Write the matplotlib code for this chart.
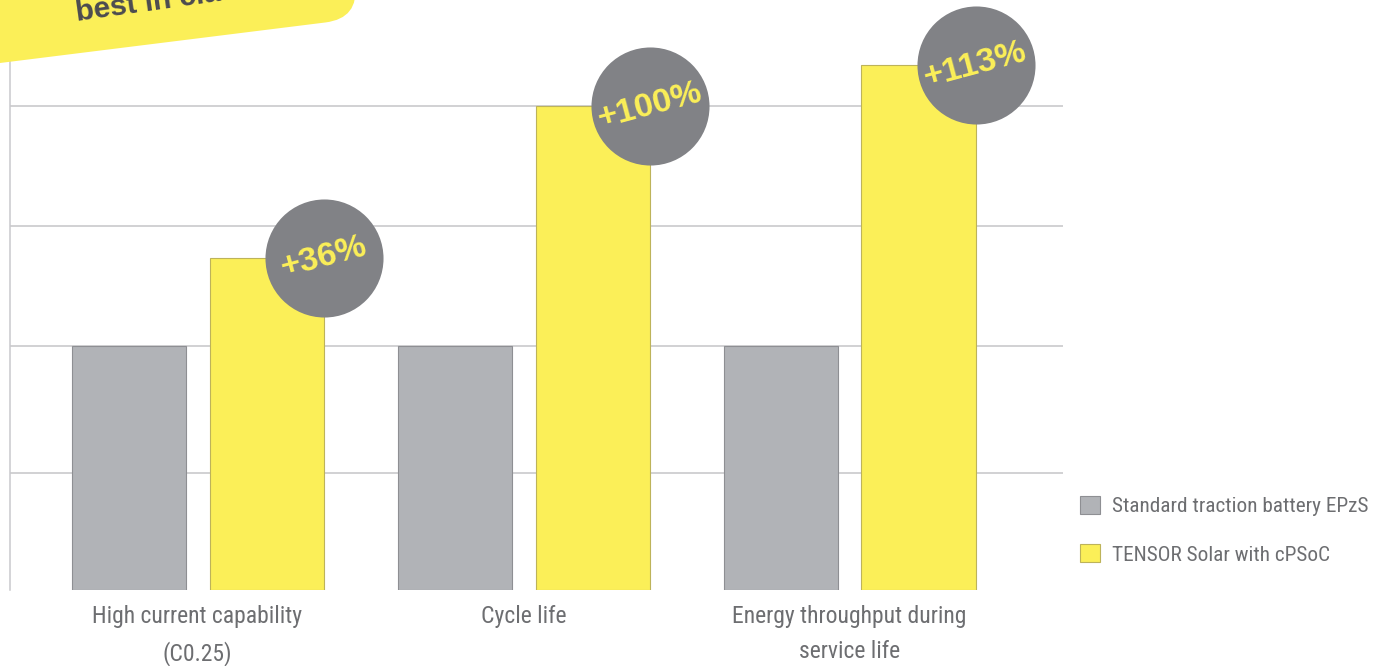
import matplotlib
matplotlib.use("Agg")
import matplotlib.pyplot as plt
from matplotlib.patches import FancyBboxPatch, Patch
from matplotlib.transforms import Affine2D
import numpy as np
import logging
logging.getLogger("matplotlib.font_manager").setLevel(logging.ERROR)

# ---- data ----
categories = ["High current capability\n(C0.25)", "Cycle life", "Energy throughput during\nservice life"]
series_names = ["Standard traction battery EPzS", "TENSOR Solar with cPSoC"]
standard_vals = [100, 100, 100]
tensor_vals = [136, 198, 215]
gain_labels = ["+36%", "+100%", "+113%"]
grid_levels = [47.8, 100, 149.1, 198.3]
banner_text = "best in class"

# ---- style ----
W, H = 1383, 666
DPI = 100
GRAY_BAR = "#B1B3B7"
GRAY_EDGE = "#8E8F93"
YELLOW = "#FBEF58"
YELLOW_EDGE = "#BDB35A"
CIRCLE = "#818286"
TEXT_GRAY = "#6D6E71"
GRID = "#C5C5C8"
narrow = ["Liberation Sans Narrow", "DejaVu Sans Condensed", "Roboto Condensed", "Liberation Sans"]
bold = ["Liberation Sans", "DejaVu Sans"]

fig = plt.figure(figsize=(W / DPI, H / DPI), dpi=DPI)
fig.patch.set_facecolor("white")

# main axes in pixel layout
ax_l, ax_r, ax_b, ax_t = 10, 1063, 590, 60
ax = fig.add_axes([ax_l / W, 1 - ax_b / H, (ax_r - ax_l) / W, (ax_b - ax_t) / H])
px_per_unit = 2.443
ax.set_ylim(0, (ax_b - ax_t) / px_per_unit)
group_px = 326.0
x0_px = 197.5
ax.set_xlim((ax_l - x0_px) / group_px, (ax_r - x0_px) / group_px)

x = np.arange(len(categories))
bw = 114 / group_px
off = 69 / group_px

ax.bar(x - off, standard_vals, width=bw, color=GRAY_BAR, edgecolor=GRAY_EDGE, linewidth=0.8, zorder=3)
ax.bar(x + off, tensor_vals, width=bw, color=YELLOW, edgecolor=YELLOW_EDGE, linewidth=0.8, zorder=3)

# gain circles at top-right corner of yellow bars
cx = x + off + bw / 2
ax.plot(cx, tensor_vals, "o", markersize=85, color=CIRCLE, markeredgewidth=0, zorder=5, clip_on=False)
for xi, yi, lab in zip(cx, tensor_vals, gain_labels):
    ax.text(xi, yi, lab, rotation=15, rotation_mode="anchor", ha="center", va="center",
            fontsize=24.5, fontweight="bold", color=YELLOW, family=bold, zorder=6)

# grid / spines
ax.set_yticks(grid_levels)
ax.yaxis.grid(True, color=GRID, linewidth=1.1, zorder=0)
ax.tick_params(axis="y", left=False, labelleft=False)
for s in ["top", "right", "bottom"]:
    ax.spines[s].set_visible(False)
ax.spines["left"].set_color("#C9C9CD")
ax.spines["left"].set_linewidth(1.1)
ax.set_axisbelow(True)

ax.set_xticks(x)
ax.set_xticklabels(categories, fontsize=17, color=TEXT_GRAY, family=narrow, linespacing=1.7)
ax.tick_params(axis="x", bottom=False, pad=7)

# legend
handles = [Patch(facecolor=GRAY_BAR, edgecolor=GRAY_EDGE, linewidth=0.8),
           Patch(facecolor=YELLOW, edgecolor=YELLOW_EDGE, linewidth=0.8)]
leg = fig.legend(handles, series_names, loc="upper left", bbox_to_anchor=(1080 / W, 1 - 496 / H),
                 frameon=False, prop={"family": narrow, "size": 15.3}, labelcolor=TEXT_GRAY,
                 handlelength=0.95, handleheight=0.95, handletextpad=0.55, labelspacing=1.3,
                 borderpad=0, borderaxespad=0)

# decorative banner overlay (pixel coordinates, y up)
ov = fig.add_axes([0, 0, 1, 1], zorder=10)
ov.set_xlim(0, W)
ov.set_ylim(0, H)
ov.axis("off")
ang = 7.1
rot = Affine2D().rotate_deg(ang).translate(0, H - 63) + ov.transData
banner = FancyBboxPatch((-500, 0), 862, 200, boxstyle="round,pad=0,rounding_size=34",
                        facecolor=YELLOW, edgecolor="none", transform=rot)
ov.add_patch(banner)
ov.text(77, H - 21, banner_text, rotation=8, rotation_mode="anchor", ha="left", va="baseline",
        fontsize=21.5, fontweight="bold", color="#4B4B50", family=bold)

fig.savefig("out.png", dpi=DPI, facecolor="white")
